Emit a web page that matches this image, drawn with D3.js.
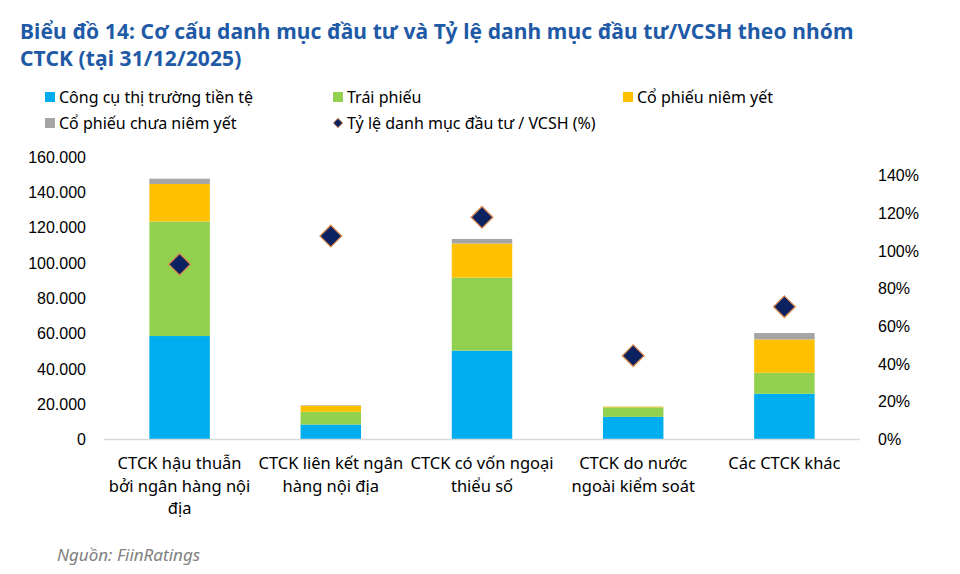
<!DOCTYPE html>
<html>
<head>
<meta charset="utf-8">
<script src="https://cdn.jsdelivr.net/npm/d3@7"></script>
<style>
  body { margin: 0; background: #fff; }
  svg text { font-family: "Noto Sans", "Open Sans", sans-serif; }
</style>
</head>
<body>
<div id="chart"></div>
<script>

// categories (label lines as shown under the axis)
var categories = [
  ["CTCK hậu thuẫn", "bởi ngân hàng nội", "địa"],
  ["CTCK liên kết ngân", "hàng nội địa"],
  ["CTCK có vốn ngoại", "thiểu số"],
  ["CTCK do nước", "ngoài kiểm soát"],
  ["Các CTCK khác"]
];

var seriesNames = ["Công cụ thị trường tiền tệ", "Trái phiếu", "Cổ phiếu niêm yết", "Cổ phiếu chưa niêm yết"];
var moneyMarket = [58600, 8500, 50300, 12800, 25900];
var bonds       = [64900, 7200, 41400, 5400, 11900];
var listed      = [21200, 3400, 19300, 400, 18900];
var unlisted    = [3000, 300, 2600, 100, 3600];
var ratioName = "Tỷ lệ danh mục đầu tư / VCSH (%)";
var ratio = [0.93, 1.08, 1.18, 0.445, 0.705];

var leftTicks = [0, 20000, 40000, 60000, 80000, 100000, 120000, 140000, 160000];
var rightTicks = [0, 0.2, 0.4, 0.6, 0.8, 1.0, 1.2, 1.4];

var colors = ["#00aeef", "#92d050", "#ffc000", "#a5a5a5"];

var svg = d3.select("#chart").append("svg")
  .attr("width", 960)
  .attr("height", 574);

// title, two lines
var titleLines = ["Biểu đồ 14: Cơ cấu danh mục đầu tư và Tỷ lệ danh mục đầu tư/VCSH theo nhóm", "CTCK (tại 31/12/2025)"];
svg.selectAll(".title")
  .data(titleLines)
  .enter()
  .append("text")
  .attr("class", "title")
  .attr("x", 20)
  .attr("y", function(d, i){ return 38.5 + i * 27; })
  .attr("fill", "#1f5aa6")
  .style("font-size", "21px")
  .style("font-weight", "bold")
  .style("letter-spacing", "0.1px")
  .text(function(d){ return d; });

// scales
var x = d3.scaleBand()
  .domain(d3.range(categories.length))
  .range([104, 860])
  .paddingInner(0.6)
  .paddingOuter(0.3);

var yL = d3.scaleLinear().domain([0, 160000]).range([439.5, 157]);
var yR = d3.scaleLinear().domain([0, 1.5]).range([439.5, 157]);

// stacked bars
var rows = categories.map(function(c, i){
  return {i: i, a: moneyMarket[i], b: bonds[i], c: listed[i], d: unlisted[i]};
});
var stack = d3.stack().keys(["a", "b", "c", "d"]);
var layers = stack(rows);

svg.selectAll(".layer")
  .data(layers)
  .enter()
  .append("g")
  .attr("class", "layer")
  .attr("fill", function(d, i){ return colors[i]; })
  .selectAll("rect")
  .data(function(d){ return d; })
  .enter()
  .append("rect")
  .attr("x", function(d){ return x(d.data.i); })
  .attr("width", x.bandwidth())
  .attr("y", function(d){ return yL(d[1]); })
  .attr("height", function(d){ return yL(d[0]) - yL(d[1]); });

// baseline
svg.append("line")
  .attr("x1", 104).attr("x2", 860)
  .attr("y1", yL(0)).attr("y2", yL(0))
  .attr("stroke", "#d9d9d9")
  .attr("stroke-width", 1.5);

// left axis
var leftAxis = d3.axisLeft(yL)
  .tickValues(leftTicks)
  .tickSize(0)
  .tickPadding(0)
  .tickFormat(function(d){ return d3.format(",")(d).replace(/,/g, "."); });
var gL = svg.append("g")
  .attr("transform", "translate(86,0)")
  .call(leftAxis);
gL.select(".domain").remove();
gL.selectAll("text")
  .attr("fill", "#000")
  .style("font-family", "'Liberation Sans', Arial, sans-serif")
  .style("font-size", "16px");

// right axis
var rightAxis = d3.axisRight(yR)
  .tickValues(rightTicks)
  .tickSize(0)
  .tickPadding(0)
  .tickFormat(d3.format(".0%"));
var gR = svg.append("g")
  .attr("transform", "translate(878,0)")
  .call(rightAxis);
gR.select(".domain").remove();
gR.selectAll("text")
  .attr("fill", "#000")
  .style("font-family", "'Liberation Sans', Arial, sans-serif")
  .style("font-size", "16px");

// diamonds
var diamond = d3.symbol().type(d3.symbolDiamond2).size(300);
svg.selectAll(".ratio")
  .data(ratio)
  .enter()
  .append("path")
  .attr("class", "ratio")
  .attr("d", diamond)
  .attr("transform", function(d, i){
    return "translate(" + (x(i) + x.bandwidth() / 2) + "," + yR(d) + ")";
  })
  .attr("fill", "#0b2160")
  .attr("stroke", "#d9894f")
  .attr("stroke-width", 1.3);

// category labels
var cat = svg.selectAll(".cat")
  .data(categories)
  .enter()
  .append("text")
  .attr("class", "cat")
  .attr("text-anchor", "middle")
  .attr("fill", "#000")
  .style("font-size", "16.5px");
cat.selectAll("tspan")
  .data(function(d, i){ return d.map(function(t){ return {t: t, i: i}; }); })
  .enter()
  .append("tspan")
  .attr("x", function(d){ return x(d.i) + x.bandwidth() / 2; })
  .attr("y", function(d, j){ return 469 + j * 22.5; })
  .text(function(d){ return d.t; });

// legend
var legendItems = [
  {name: seriesNames[0], color: colors[0], x: 45, y: 97},
  {name: seriesNames[1], color: colors[1], x: 333, y: 97},
  {name: seriesNames[2], color: colors[2], x: 623, y: 97},
  {name: seriesNames[3], color: colors[3], x: 45, y: 123}
];
var lg = svg.selectAll(".lg")
  .data(legendItems)
  .enter()
  .append("g")
  .attr("class", "lg");
lg.append("rect")
  .attr("x", function(d){ return d.x; })
  .attr("y", function(d){ return d.y - 5; })
  .attr("width", 10)
  .attr("height", 10)
  .attr("fill", function(d){ return d.color; });
lg.append("text")
  .attr("x", function(d){ return d.x + 14; })
  .attr("y", function(d){ return d.y + 5.5; })
  .attr("fill", "#000")
  .style("font-size", "16px")
  .text(function(d){ return d.name; });

svg.append("path")
  .attr("d", d3.symbol().type(d3.symbolDiamond2).size(55))
  .attr("transform", "translate(338,123)")
  .attr("fill", "#0b2160")
  .attr("stroke", "#d9894f")
  .attr("stroke-width", 1);
svg.append("text")
  .attr("x", 347)
  .attr("y", 128.5)
  .attr("fill", "#000")
  .style("font-size", "16px")
  .text(ratioName);

// source
svg.append("text")
  .attr("x", 57)
  .attr("y", 561)
  .attr("fill", "#808080")
  .style("font-size", "17px")
  .style("font-style", "italic")
  .text("Nguồn: FiinRatings");

</script>
</body>
</html>
